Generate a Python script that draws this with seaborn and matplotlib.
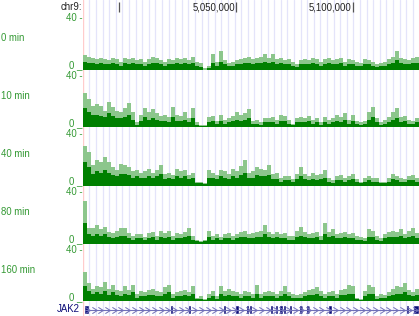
import numpy as np
import pandas as pd
import matplotlib
matplotlib.use("Agg")
import matplotlib.pyplot as plt
from matplotlib.path import Path
import seaborn as sns

# ---------------- data ----------------
# genomic window shown (chr9), 84 bins of ~1.7 kb
XMIN, XMAX = 4_984_450, 5_128_400
ruler_ticks = [5_000_000, 5_050_000, 5_100_000]
ruler_labels = ["", "5,050,000", "5,100,000"]

track_names = ["0 min", "10 min", "40 min", "80 min", "160 min"]

# light green = max per bin, dark green = mean per bin
t0_max = [11,10,9,8, 9,8,7,9, 8,6,9,8, 9,7,8,6, 8,10,9,7, 6,8,7,9, 8,9,7,10, 6,5,1,3,
          12,6,14,7, 5,6,7,8, 9,10,8,9, 10,12,9,12, 8,9,7,8, 6,4,7,8, 7,9,8,6, 8,9,7,8,
          9,6,8,7, 6,5,8,7, 6,4,5,6, 8,10,14,9, 8,7,9,10]
t0_mean = [6,5,5,4, 5,4,4,5, 4,3,5,4, 5,4,4,3, 4,5,5,4, 3,4,4,5, 4,5,4,5, 3,2,0,1,
           5,3,6,4, 3,3,4,4, 5,5,4,5, 5,6,5,6, 4,5,4,4, 3,2,4,4, 4,5,4,3, 4,5,4,4,
           5,3,4,4, 3,3,4,4, 3,2,3,3, 4,5,7,5, 4,4,5,5]

t10_max = [27,22,17,18, 17,13,20,16, 13,12,15,19, 12,4,10,15, 12,14,11,9, 10,8,16,10,
           9,12,7,15, 4,2,2,8, 9,5,10,6, 7,9,12,10, 11,14,5,6, 4,7,7,8, 6,10,9,6,
           3,7,8,7, 9,6,7,4, 8,6,7,10, 8,11,6,10, 5,4,5,12, 16,7,4,6, 8,12,15,8, 9,6,5,7]
t10_mean = [15,12,10,10, 9,8,11,9, 7,7,8,10, 6,2,5,8, 6,7,6,5, 5,4,8,5, 5,6,4,7, 2,1,1,4,
            5,3,5,3, 4,5,6,5, 6,7,3,3, 2,4,4,4, 3,5,5,3, 2,4,4,4, 5,3,4,2, 4,3,4,5,
            4,6,3,5, 3,2,3,6, 8,4,2,3, 4,6,7,4, 5,3,3,4]

t40_max = [31,26,16,20, 18,22,18,14, 12,17,16,14, 11,12,10,11, 13,10,12,16, 9,10,8,13,
           11,12,8,10, 3,3,2,12, 10,8,12,11, 9,13,11,15, 20,10,11,14, 13,12,16,9,
           10,6,7,7, 5,9,14,9, 7,10,8,9, 12,6,4,7, 8,6,7,9, 5,3,6,7, 6,6,3,3, 6,9,7,6, 5,7,8,6]
t40_mean = [18,14,9,11, 10,12,10,8, 7,9,9,8, 6,7,6,6, 7,6,7,9, 5,6,5,7, 6,7,5,6, 2,2,1,6,
            6,5,7,6, 5,7,6,8, 10,6,6,8, 7,7,8,5, 5,3,4,4, 3,5,7,5, 4,5,4,5, 6,3,2,4,
            4,3,4,5, 3,2,3,4, 3,3,2,2, 3,5,4,3, 3,4,4,3]

t80_max = [33,12,12,14, 11,13,9,8, 10,12,12,8, 6,7,7,5, 8,9,6,10, 8,10,6,8, 7,9,12,6,
           3,2,3,10, 6,7,5,7, 8,6,7,9, 10,7,8,9, 10,14,9,7, 9,7,8,6, 6,10,13,9, 7,8,9,6,
           16,9,11,7, 8,9,7,8, 6,5,4,11, 10,6,4,7, 9,10,9,11, 7,10,12,8]
t80_mean = [16,7,6,7, 6,7,5,4, 5,6,6,4, 3,4,4,3, 4,5,3,5, 4,5,3,4, 4,5,6,3, 2,1,2,5,
            3,4,3,4, 4,3,4,5, 5,4,4,5, 5,7,5,4, 5,4,4,3, 3,5,6,5, 4,4,5,3, 7,5,6,4,
            4,5,4,4, 3,3,2,5, 5,3,2,4, 5,5,5,6, 4,5,6,4]

t160_max = [23,14,10,12, 11,15,10,13, 9,8,12,9, 13,6,8,7, 9,10,8,7, 11,13,6,7, 8,9,7,12,
            3,4,2,6, 8,4,12,8, 10,8,7,6, 8,7,6,13, 6,7,8,7, 6,8,12,7, 6,5,6,7, 9,10,11,8,
            6,7,8,6, 9,10,13,12, 3,2,8,13, 11,4,6,5, 7,10,12,11, 14,9,7,10]
t160_mean = [12,8,6,7, 6,8,5,7, 5,4,6,5, 7,3,4,4, 5,5,4,4, 6,7,3,4, 4,5,4,6, 2,2,1,3,
             4,2,6,4, 5,4,4,3, 4,4,3,6, 3,4,4,4, 3,4,6,4, 3,3,3,4, 5,5,6,4, 3,4,4,3,
             5,5,6,6, 2,1,4,6, 6,2,3,3, 4,5,6,6, 7,5,4,5]

track_max = [t0_max, t10_max, t40_max, t80_max, t160_max]
track_mean = [t0_mean, t10_mean, t40_mean, t80_mean, t160_mean]

# JAK2 exons (bp start, bp end)
gene_name = "JAK2"
gene_start, gene_end = 4_985_300, 5_128_000
exons = [(4_985_300, 4_986_400), (5_022_000, 5_022_300), (5_029_700, 5_030_000),
         (5_044_700, 5_045_000), (5_050_200, 5_050_700), (5_054_600, 5_054_900),
         (5_055_900, 5_056_200), (5_064_900, 5_065_200), (5_067_000, 5_067_300),
         (5_068_900, 5_069_900), (5_070_400, 5_070_700), (5_073_000, 5_073_300),
         (5_077_300, 5_077_600), (5_078_100, 5_078_400), (5_080_300, 5_080_600),
         (5_081_100, 5_081_400), (5_089_800, 5_090_900), (5_123_100, 5_123_400),
         (5_126_300, 5_128_000)]

# ---------------- layout helpers ----------------
W, H = 419, 316
LABEL_GREEN = "#339933"
DARK_GREEN = "#008000"
LIGHT_GREEN = "#8cc68c"
NAVY = "#0c0c78"
FONT = ["Liberation Sans", "DejaVu Sans"]

sns.set_theme(style="white")
plt.rcParams["font.family"] = FONT

fig = plt.figure(figsize=(W / 100, H / 100), dpi=100)
fig.patch.set_facecolor("white")


def ax_px(x0, y0, x1, y1, z=1):
    ax = fig.add_axes([x0 / W, 1 - y1 / H, (x1 - x0) / W, (y1 - y0) / H], zorder=z)
    ax.patch.set_alpha(0)
    ax.set_xlim(XMIN, XMAX)
    ax.set_axis_off()
    return ax


# background guidelines + left border
bg = ax_px(83, 0, 419, 316, z=0)
bg.set_ylim(0, 1)
bp_per_px = (XMAX - XMIN) / 336
for gx in np.arange(XMIN + 6.3 * bp_per_px, XMAX, 6.6 * bp_per_px):
    bg.axvline(gx, color="#e4e4fa", lw=0.9)
bg.axvline(XMIN + 0.3 * bp_per_px, color="#ffcccc", lw=1.0)

# ruler
ruler = ax_px(83, 0, 419, 14, z=2)
ruler.set_ylim(14, 0)
for pos, lab in zip(ruler_ticks, ruler_labels):
    ruler.vlines(pos, 1.5, 12, color="#555555", lw=0.9)
    if lab:
        ruler.text(pos - 0.8 * bp_per_px, 7.5, lab, ha="right", va="center",
                   fontsize=6.9, color="#222222")
fig.text(82 / W, 1 - 7.5 / H, "chr9:", ha="right", va="center", fontsize=6.9,
         color="#222222")

# signal tracks
nbins = len(t0_max)
edges = np.linspace(XMIN, XMAX, nbins + 1)
centers = (edges[:-1] + edges[1:]) / 2
for i, name in enumerate(track_names):
    y40 = 18 + 58 * i
    y0 = 69 + 58 * i
    ax = ax_px(83, y40, 419, y0 + 0.5, z=2)
    df = pd.DataFrame({"pos": centers, "vmax": track_max[i], "vmean": track_mean[i]})
    sns.histplot(data=df, x="pos", weights="vmax", bins=nbins, binrange=(XMIN, XMAX),
                 element="step", fill=True, color=LIGHT_GREEN, alpha=1, lw=0, ax=ax)
    sns.histplot(data=df, x="pos", weights="vmean", bins=nbins, binrange=(XMIN, XMAX),
                 element="step", fill=True, color=DARK_GREEN, alpha=1, lw=0, ax=ax)
    ax.set_xlim(XMIN, XMAX)
    ax.set_ylim(0, 40)
    ax.set_axis_off()
    fig.text(82.5 / W, 1 - y40 / H, "40 -", ha="right", va="center",
             fontsize=6.9, color=LABEL_GREEN)
    fig.text(82.5 / W, 1 - (y0 + 1) / H, "0 _", ha="right", va="bottom",
             fontsize=6.9, color=LABEL_GREEN)
    fig.text(1 / W, 1 - (38 + 58 * i) / H, name, ha="left", va="center",
             fontsize=6.9, color=LABEL_GREEN)

# gene track
gax = ax_px(83, 303, 419, 316, z=2)
gax.set_ylim(-6.5, 6.5)
gax.plot([gene_start, gene_end], [0, 0], color="#7070b8", lw=0.8)
chevron = Path([(-1, 1), (0.6, 0), (-1, -1)], [Path.MOVETO, Path.LINETO, Path.LINETO])
chev_x = np.arange(gene_start + 3 * bp_per_px, gene_end, 6.7 * bp_per_px)
gax.plot(chev_x, np.zeros_like(chev_x), ls="none", marker=chevron, ms=4.5,
         mfc="none", mec="#7070b8", mew=0.7)
for s, e in exons:
    gax.broken_barh([(s, max(e - s, 0.9 * bp_per_px))], (-3.8, 7.6),
                    facecolor=NAVY, edgecolor=NAVY, lw=0.4)
fig.text(80 / W, 1 - 309.5 / H, gene_name, ha="right", va="center",
         fontsize=6.9, color=NAVY)

fig.savefig("out.png", dpi=100, facecolor="white")
